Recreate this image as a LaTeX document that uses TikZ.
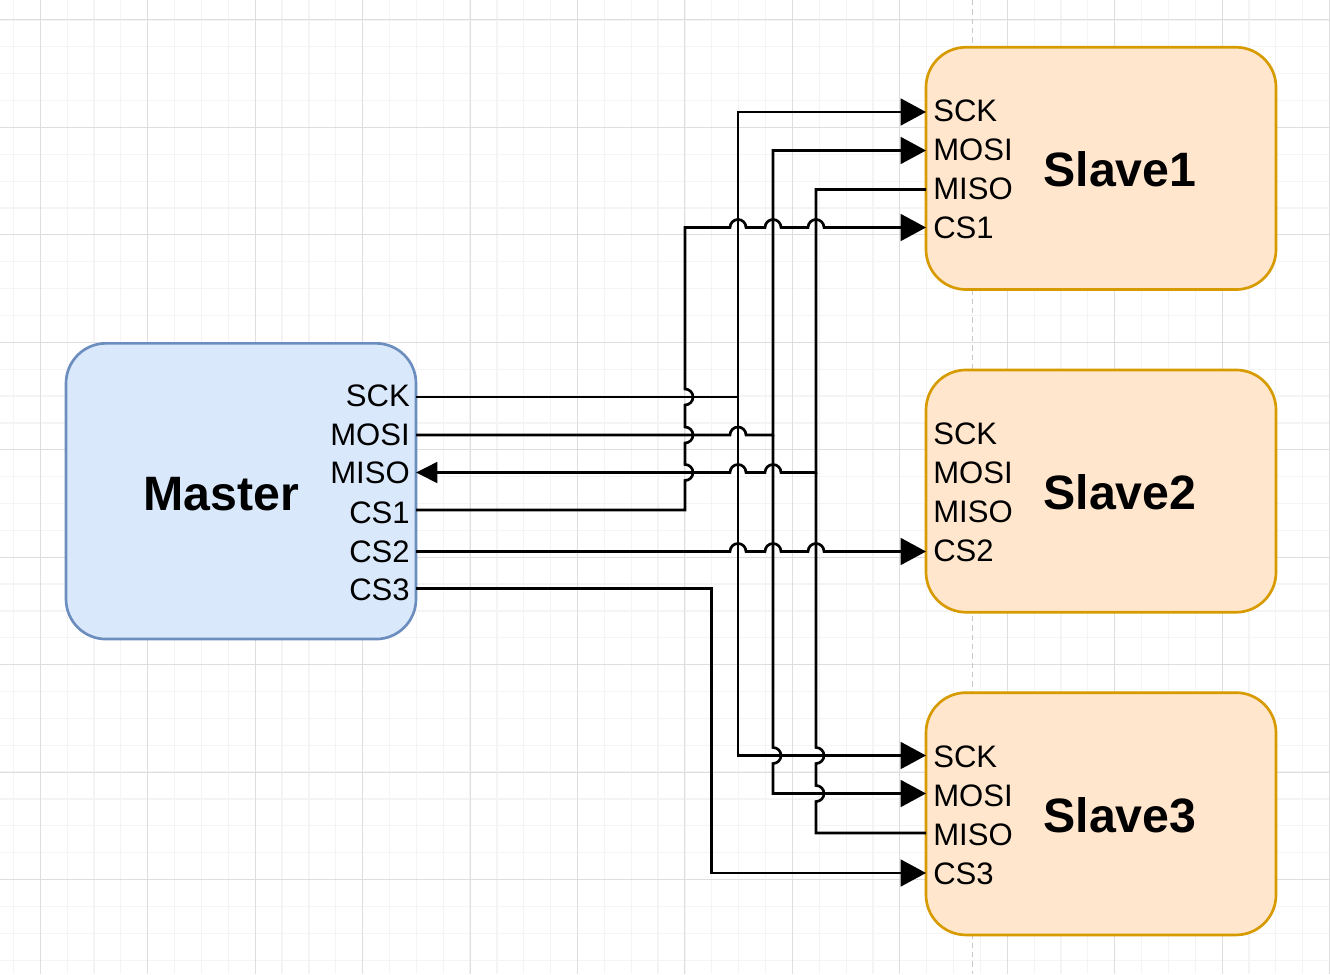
\documentclass[tikz,border=0pt]{standalone}
\usepackage{fontspec}
\setmainfont{Liberation Sans}
\usetikzlibrary{arrows.meta}
\definecolor{mfill}{HTML}{DAE8FC}
\definecolor{mdraw}{HTML}{6C8EBF}
\definecolor{sfill}{HTML}{FFE6CC}
\definecolor{sdraw}{HTML}{D79B00}
\definecolor{gminor}{RGB}{244,244,244}
\definecolor{gmajor}{RGB}{222,222,222}
\definecolor{pagebrk}{RGB}{200,200,200}
\tikzset{
  masterbox/.style={draw=mdraw, fill=mfill, line width=2pt, rounded corners=30pt,
    minimum width=262.5pt, minimum height=221.8pt, inner sep=0pt},
  slavebox/.style={draw=sdraw, fill=sfill, line width=2pt, rounded corners=30pt,
    minimum width=262.5pt, minimum height=181.7pt, inner sep=0pt},
  pinlabel/.style={font=\fontsize{23.3}{26}\selectfont, inner sep=0pt},
  titlelabel/.style={font=\fontsize{36.2}{40}\selectfont\bfseries, inner sep=0pt},
  wire/.style={line width=2pt, black, line join=miter},
  tipS/.style={-{Triangle[length=19pt,width=20pt]}},
  tipM/.style={-{Triangle[length=16pt,width=15.5pt]}},
}
\begin{document}
\begin{tikzpicture}[x=0.75pt,y=-0.75pt]
% background and bounding box
\fill[white] (0,0) rectangle (1330,974);
\useasboundingbox (0,0) rectangle (1330,974);
% grid
\foreach \i in {-1,...,48}{
  \pgfmathsetmacro\xx{40.3+26.86*\i}
  \draw[gminor, line width=0.9pt] (\xx,0) -- (\xx,974);
}
\foreach \j in {-1,...,36}{
  \pgfmathsetmacro\yy{20+26.86*\j}
  \draw[gminor, line width=0.9pt] (0,\yy) -- (1330,\yy);
}
\foreach \i in {0,...,12}{
  \pgfmathsetmacro\xx{40.3+107.44*\i}
  \draw[gmajor, line width=0.75pt] (\xx,0) -- (\xx,974);
}
\foreach \j in {0,...,9}{
  \pgfmathsetmacro\yy{20+107.44*\j}
  \draw[gmajor, line width=0.75pt] (0,\yy) -- (1330,\yy);
}
% page break line
\draw[pagebrk, line width=1pt, dash pattern=on 4pt off 3pt] (972.7,0) -- (972.7,974);

% boxes
\node[masterbox] (master) at (241,491.2) {};
\node[slavebox] (slave1) at (1101,168.4) {};
\node[slavebox] (slave2) at (1101,491.1) {};
\node[slavebox] (slave3) at (1101,813.8) {};

% titles
\node[titlelabel, anchor=base] (master-title) at (221.5,510) {Master};
\node[titlelabel, anchor=base] (slave1-title) at (1120,186.7) {Slave1};
\node[titlelabel, anchor=base] (slave2-title) at (1120,509.4) {Slave2};
\node[titlelabel, anchor=base] (slave3-title) at (1120,832.1) {Slave3};

% master pins
\node[pinlabel, anchor=base east] (mt-sck)  at (410,406.5) {SCK};
\node[pinlabel, anchor=base east] (mt-mosi) at (410,445)   {MOSI};
\node[pinlabel, anchor=base east] (mt-miso) at (410,483.5) {MISO};
\node[pinlabel, anchor=base east] (mt-cs1)  at (410,523)   {CS1};
\node[pinlabel, anchor=base east] (mt-cs2)  at (410,562)   {CS2};
\node[pinlabel, anchor=base east] (mt-cs3)  at (410,600)   {CS3};

% slave pins
\node[pinlabel, anchor=base west] (s1t-sck)  at (933,121.8) {SCK};
\node[pinlabel, anchor=base west] (s1t-mosi) at (933,160.8) {MOSI};
\node[pinlabel, anchor=base west] (s1t-miso) at (933,199.8) {MISO};
\node[pinlabel, anchor=base west] (s1t-cs1)  at (933,238.8) {CS1};
\node[pinlabel, anchor=base west] (s2t-sck)  at (933,444.5) {SCK};
\node[pinlabel, anchor=base west] (s2t-mosi) at (933,483.5) {MOSI};
\node[pinlabel, anchor=base west] (s2t-miso) at (933,522.5) {MISO};
\node[pinlabel, anchor=base west] (s2t-cs2)  at (933,561.5) {CS2};
\node[pinlabel, anchor=base west] (s3t-sck)  at (933,767.2) {SCK};
\node[pinlabel, anchor=base west] (s3t-mosi) at (933,806.2) {MOSI};
\node[pinlabel, anchor=base west] (s3t-miso) at (933,845.2) {MISO};
\node[pinlabel, anchor=base west] (s3t-cs3)  at (933,884.2) {CS3};

% pin points on the box borders
\coordinate (m-sck)  at (416,397);
\coordinate (m-mosi) at (416,435);
\coordinate (m-miso) at (416,472.5);
\coordinate (m-cs1)  at (416,510);
\coordinate (m-cs2)  at (416,551.5);
\coordinate (m-cs3)  at (416,588.5);
\coordinate (s1-sck)  at (926,112);
\coordinate (s1-mosi) at (926,150.5);
\coordinate (s1-miso) at (926,189.5);
\coordinate (s1-cs1)  at (926,227.5);
\coordinate (s2-cs2)  at (926,551.5);
\coordinate (s3-sck)  at (926,755.5);
\coordinate (s3-mosi) at (926,793.5);
\coordinate (s3-miso) at (926,833);
\coordinate (s3-cs3)  at (926,873);
% bus junctions
\coordinate (j-sck)  at (738,397);
\coordinate (j-mosi) at (773,435);
\coordinate (j-miso) at (816,472.5);

% SCK
\draw[wire,tipS] (m-sck) -- (j-sck) |- (s1-sck);
\draw[wire,tipS] (j-sck) |- (s3-sck);
% MOSI
\draw[wire,tipS] (m-mosi) -- (730,435) arc[start angle=180,end angle=0,radius=6pt]
  -- (j-mosi) |- (s1-mosi);
\draw[wire,tipS] (j-mosi) -- (773,747.5) arc[start angle=90,end angle=-90,radius=6pt]
  |- (s3-mosi);
% MISO
\draw[wire,tipM] (s1-miso) -| (j-miso)
  -- (781,472.5) arc[start angle=0,end angle=180,radius=6pt]
  -- (746,472.5) arc[start angle=0,end angle=180,radius=6pt]
  -- (m-miso);
\draw[wire] (s3-miso) -| (816,801.5) arc[start angle=-90,end angle=90,radius=6pt]
  -- (816,763.5) arc[start angle=-90,end angle=90,radius=6pt]
  -- (j-miso);
% CS1
\draw[wire,tipS] (m-cs1) -- (685,510)
  -- (685,480.5) arc[start angle=-90,end angle=90,radius=6pt]
  -- (685,443) arc[start angle=-90,end angle=90,radius=6pt]
  -- (685,405) arc[start angle=-90,end angle=90,radius=6pt]
  -- (685,227.5)
  -- (730,227.5) arc[start angle=180,end angle=0,radius=6pt]
  -- (765,227.5) arc[start angle=180,end angle=0,radius=6pt]
  -- (808,227.5) arc[start angle=180,end angle=0,radius=6pt]
  -- (s1-cs1);
% CS2
\draw[wire,tipS] (m-cs2)
  -- (730,551.5) arc[start angle=180,end angle=0,radius=6pt]
  -- (765,551.5) arc[start angle=180,end angle=0,radius=6pt]
  -- (808,551.5) arc[start angle=180,end angle=0,radius=6pt]
  -- (s2-cs2);
% CS3
\draw[wire,tipS] (m-cs3) -- (711.5,588.5) |- (s3-cs3);
\end{tikzpicture}
\end{document}
